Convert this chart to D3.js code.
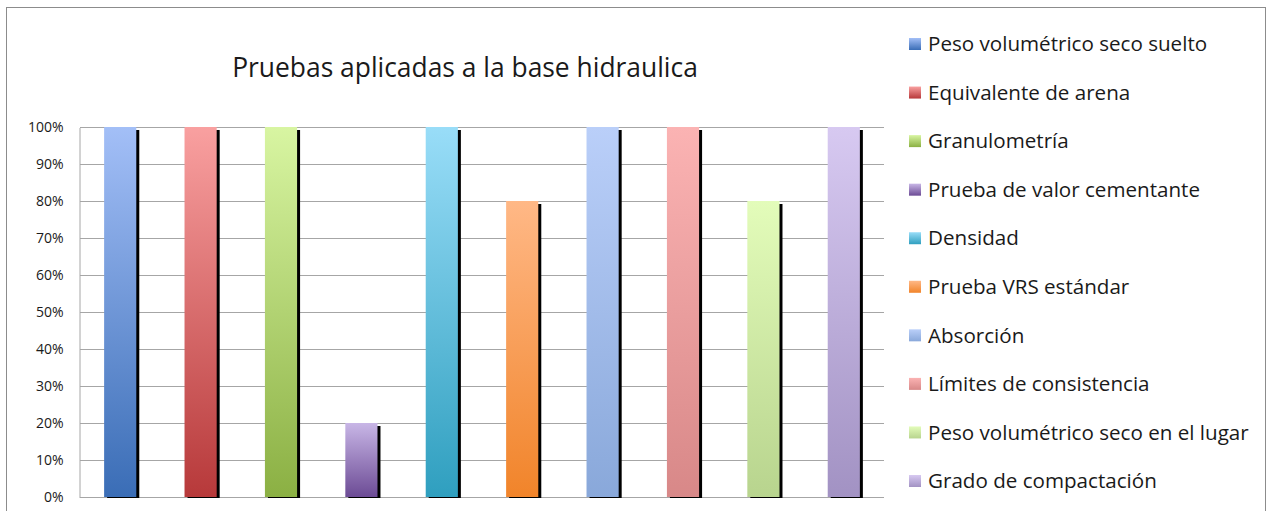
<!DOCTYPE html>
<html>
<head>
<meta charset="utf-8">
<script src="https://cdn.jsdelivr.net/npm/d3@7"></script>
<style>
  html, body { margin: 0; padding: 0; background: #fff; }
  svg { display: block; }
  text { font-family: "Open Sans", "Noto Sans", sans-serif; fill: #1a1a1a; }
</style>
</head>
<body>
<svg id="chart" width="1269" height="511"></svg>
<script>
// Tests applied to the hydraulic base (percent)
const categories = [
  "Peso volumétrico seco suelto",
  "Equivalente de arena",
  "Granulometría",
  "Prueba de valor cementante",
  "Densidad",
  "Prueba VRS estándar",
  "Absorción",
  "Límites de consistencia",
  "Peso volumétrico seco en el lugar",
  "Grado de compactación"
];
const values = [100, 100, 100, 20, 100, 80, 100, 100, 80, 100];
const yTicks = [0, 10, 20, 30, 40, 50, 60, 70, 80, 90, 100];
const titleText = "Pruebas aplicadas a la base hidraulica";

// gradient stops per series: light at the top, saturated at the bottom
const topColors = ["#a3bff7", "#f9a0a0", "#d8f5a2", "#c8b6e6", "#99ddf8", "#ffb886", "#bacff9", "#fbb3b3", "#e3fcba", "#d7c9f1"];
const bottomColors = ["#3a6db6", "#b7393a", "#8bb043", "#6c4b95", "#2f9fbf", "#f1842a", "#89a8da", "#d88888", "#b8d48e", "#a292c3"];

const svg = d3.select("#chart");

// outer frame
svg.append("rect")
  .attr("x", 6.5).attr("y", 7.5)
  .attr("width", 1259).attr("height", 520)
  .attr("fill", "#fff").attr("stroke", "#8c8c8c").attr("stroke-width", 1);

const plot = { left: 80, right: 884, top: 127, bottom: 497 };

const x = d3.scaleBand()
  .domain(categories)
  .range([plot.left, plot.right])
  .paddingInner(0.6)
  .paddingOuter(0.3);

const y = d3.scaleLinear()
  .domain([0, 100])
  .range([plot.bottom, plot.top]);

const defs = svg.append("defs");
categories.forEach((c, i) => {
  const g = defs.append("linearGradient")
    .attr("id", "grad" + i)
    .attr("x1", 0).attr("y1", 0).attr("x2", 0).attr("y2", 1);
  g.append("stop").attr("offset", "0%").attr("stop-color", topColors[i]);
  g.append("stop").attr("offset", "100%").attr("stop-color", bottomColors[i]);
});
defs.append("clipPath").attr("id", "plotClip")
  .append("rect")
  .attr("x", plot.left).attr("y", plot.top - 2)
  .attr("width", plot.right - plot.left + 4)
  .attr("height", plot.bottom - plot.top + 3);

// gridlines
svg.append("g")
  .selectAll("line")
  .data(yTicks)
  .join("line")
  .attr("x1", plot.left).attr("x2", plot.right)
  .attr("y1", d => Math.round(y(d)) + 0.5)
  .attr("y2", d => Math.round(y(d)) + 0.5)
  .attr("stroke", "#a6a6a6").attr("stroke-width", 1);

// value axis
const yAxis = d3.axisLeft(y)
  .tickValues(yTicks)
  .tickFormat(d => d + "%")
  .tickSize(0)
  .tickPadding(16);
const yg = svg.append("g")
  .attr("transform", `translate(${plot.left - 0.5},0.5)`)
  .call(yAxis);
yg.select(".domain").attr("stroke", "#a6a6a6");
yg.selectAll("text")
  .attr("font-size", 14)
  .attr("font-family", "'Open Sans', sans-serif")
  .attr("fill", "#1a1a1a");

// bars with a hard drop shadow
const bars = svg.append("g").attr("clip-path", "url(#plotClip)");
const bw = x.bandwidth();
bars.selectAll("rect.shadow")
  .data(values)
  .join("rect")
  .attr("class", "shadow")
  .attr("x", (d, i) => x(categories[i]) + 3)
  .attr("y", d => y(d) + 3)
  .attr("width", bw)
  .attr("height", d => y(0) - y(d) - 2)
  .attr("fill", "#000");
bars.selectAll("rect.bar")
  .data(values)
  .join("rect")
  .attr("class", "bar")
  .attr("x", (d, i) => x(categories[i]))
  .attr("y", d => y(d))
  .attr("width", bw)
  .attr("height", d => y(0) - y(d))
  .attr("fill", (d, i) => `url(#grad${i})`);

// title
svg.append("text")
  .attr("x", 465).attr("y", 77)
  .attr("text-anchor", "middle")
  .attr("font-size", 26.4)
  .text(titleText);

// legend
const legend = svg.append("g");
const rowY = d3.scaleLinear().domain([0, categories.length - 1]).range([44, 481]);
const items = legend.selectAll("g")
  .data(categories)
  .join("g")
  .attr("transform", (d, i) => `translate(909,${rowY(i)})`);
items.append("rect")
  .attr("x", 0).attr("y", -6)
  .attr("width", 12).attr("height", 12)
  .attr("fill", (d, i) => `url(#grad${i})`);
items.append("text")
  .attr("x", 19).attr("y", 0)
  .attr("dy", "0.35em")
  .attr("font-size", 20.6)
  .text(d => d);
</script>
</body>
</html>
